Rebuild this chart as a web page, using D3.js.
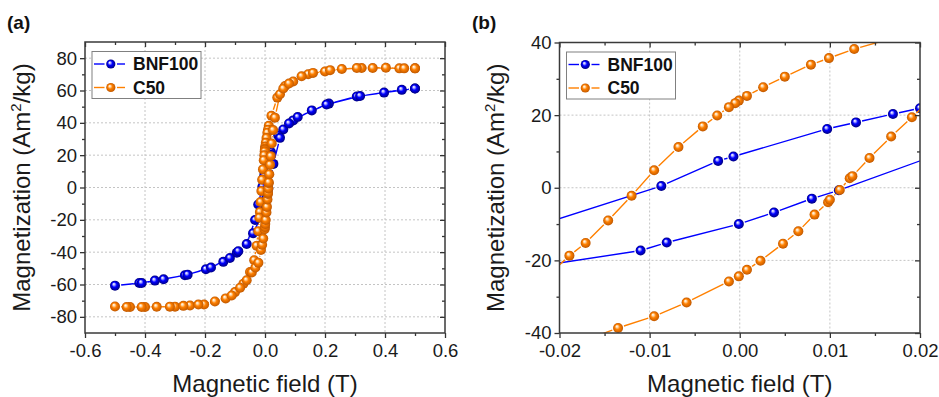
<!DOCTYPE html>
<html>
<head>
<meta charset="utf-8">
<script src="https://cdn.jsdelivr.net/npm/d3@7"></script>
<style>
  body { margin: 0; background: #fff; }
  svg { display: block; font-family: Arial, "Liberation Sans", sans-serif; }
</style>
</head>
<body>
<script>
// field (T), magnetization (Am2/kg)
// descending branch: +0.5 T -> -0.5 T, return branch: -0.5 T -> +0.5 T
const bnf100Down = [
  [0.500, 61.2], [0.397, 58.7], [0.306, 56.3], [0.213, 51.9], [0.156, 47.7], [0.094, 41.5],
  [0.061, 35.9], [0.044, 32.2], [0.0200, 21.9], [0.0170, 20.3], [0.0129, 18.0], [0.0097, 16.2],
  [-0.0007, 8.6], [-0.0024, 7.4], [-0.0087, 0.5], [-0.0225, -10.5], [-0.033, -20.1],
  [-0.061, -35.0], [-0.094, -40.4], [-0.139, -46.0], [-0.197, -50.6], [-0.267, -54.3],
  [-0.367, -57.6], [-0.419, -59.1], [-0.500, -60.7]
];
const bnf100Return = [
  [-0.411, -59.1], [-0.338, -56.8], [-0.258, -53.9], [-0.180, -49.5], [-0.117, -43.6],
  [-0.089, -39.4], [-0.040, -28.3], [-0.0110, -17.3], [-0.0081, -15.1], [-0.0001, -10.0],
  [0.0038, -6.8], [0.0080, -3.0], [0.0110, -0.7], [0.028, 14.6], [0.050, 30.7], [0.080, 39.6],
  [0.109, 43.6], [0.205, 51.3], [0.317, 56.6], [0.456, 60.4], [0.500, 61.2]
];
const c50Down = [
  [0.500, 73.7], [0.448, 73.7], [0.403, 74.1], [0.322, 73.9], [0.256, 73.3], [0.200, 71.8],
  [0.144, 70.1], [0.094, 65.6], [0.067, 62.8], [0.041, 55.6], [0.0215, 44.4], [0.0127, 38.2],
  [0.0099, 35.7], [0.0079, 33.9], [0.0050, 30.6], [0.0026, 27.7], [0.0008, 25.3], [-0.0001, 24.0],
  [-0.0005, 23.3], [-0.0012, 22.2], [-0.0025, 19.9], [-0.0041, 16.9], [-0.0068, 11.2],
  [-0.0095, 4.8], [-0.0120, -2.2], [-0.0146, -9.0], [-0.0171, -15.2], [-0.0189, -18.7],
  [-0.0225, -27.0], [-0.028, -36.0], [-0.036, -45.0], [-0.050, -52.3], [-0.072, -59.5],
  [-0.100, -64.7], [-0.131, -68.6], [-0.203, -72.4], [-0.250, -73.0], [-0.300, -73.7],
  [-0.400, -73.9], [-0.450, -73.9], [-0.500, -73.6]
];
const c50Return = [
  [-0.461, -73.9], [-0.411, -73.9], [-0.361, -73.8], [-0.317, -73.7], [-0.272, -73.2],
  [-0.222, -72.4], [-0.167, -70.5], [-0.111, -66.8], [-0.083, -62.0], [-0.061, -57.4],
  [-0.044, -52.5], [-0.032, -49.5], [-0.022, -46.5], [-0.0135, -38.6], [-0.0095, -35.4],
  [-0.0059, -31.6], [-0.0012, -25.8], [-0.0001, -24.4], [0.0008, -22.6], [0.0023, -20.1],
  [0.0048, -15.4], [0.0065, -12.0], [0.0083, -7.4], [0.0098, -4.0], [0.0100, -3.3],
  [0.0111, -0.6], [0.0122, 2.6], [0.0125, 3.2], [0.0144, 8.2], [0.0168, 14.1], [0.0191, 19.4],
  [0.0225, 27.2], [0.027, 35.5], [0.033, 43.2], [0.050, 57.7], [0.061, 61.2], [0.080, 64.3],
  [0.122, 68.8], [0.160, 70.9], [0.217, 72.6], [0.306, 73.9], [0.359, 73.9], [0.464, 73.7],
  [0.500, 73.7]
];

const seriesNames = ['BNF100', 'C50'];

// tick labels
const xTicksA = [-0.6, -0.4, -0.2, 0.0, 0.2, 0.4, 0.6];
const yTicksA = [-80, -60, -40, -20, 0, 20, 40, 60, 80];
const xTicksB = [-0.02, -0.01, 0.00, 0.01, 0.02];
const yTicksB = [-40, -20, 0, 20, 40];

const series = [
  { name: seriesNames[0], loop: bnf100Down.concat(bnf100Return), color: '#0000ff', light: '#b8b8ff', dark: '#000080' },
  { name: seriesNames[1], loop: c50Down.concat(c50Return), color: '#ff8000', light: '#ffdcb0', dark: '#c05800' }
];

const markerRadius = 5;
const symbolGap = 1.2;

const svg = d3.select('body').append('svg')
  .attr('width', 939)
  .attr('height', 397);

const defs = svg.append('defs');
series.forEach((s, i) => {
  const grad = defs.append('radialGradient')
    .attr('id', 'ball-' + i)
    .attr('cx', '50%').attr('cy', '50%').attr('r', '50%')
    .attr('fx', '36%').attr('fy', '32%');
  grad.append('stop').attr('offset', '0%').attr('stop-color', '#ffffff');
  grad.append('stop').attr('offset', '20%').attr('stop-color', s.light);
  grad.append('stop').attr('offset', '50%').attr('stop-color', s.color);
  grad.append('stop').attr('offset', '100%').attr('stop-color', s.dark);
});

function minorOf(ticks) {
  return d3.pairs(ticks).map(([a, b]) => (a + b) / 2);
}

// line segments stop short of the symbols, like the original plot
function gappedPath(pts) {
  const cut = markerRadius + symbolGap;
  let d = '';
  d3.pairs(pts).forEach(([p, q]) => {
    const dx = q[0] - p[0], dy = q[1] - p[1];
    const len = Math.hypot(dx, dy);
    if (len <= 2 * cut) return;
    const ux = dx / len, uy = dy / len;
    d += 'M' + (p[0] + ux * cut) + ',' + (p[1] + uy * cut) +
         'L' + (q[0] - ux * cut) + ',' + (q[1] - uy * cut);
  });
  return d;
}

function drawPanel(p) {
  const w = p.right - p.left;
  const h = p.bottom - p.top;
  const x = d3.scaleLinear().domain(p.xDomain).range([0, w]);
  const y = d3.scaleLinear().domain(p.yDomain).range([h, 0]);
  const g = svg.append('g').attr('transform', `translate(${p.left},${p.top})`);

  defs.append('clipPath').attr('id', 'clip-' + p.id)
    .append('rect').attr('width', w).attr('height', h);

  // dotted grid at major ticks
  const grid = g.append('g')
    .attr('stroke', '#c4c4c4')
    .attr('stroke-width', 1)
    .attr('stroke-dasharray', '2,2');
  grid.selectAll('.gx')
    .data(p.xTicks.filter(v => v > p.xDomain[0] && v < p.xDomain[1]))
    .join('line')
    .attr('x1', d => x(d)).attr('x2', d => x(d))
    .attr('y1', 0).attr('y2', h);
  grid.selectAll('.gy')
    .data(p.yTicks.filter(v => v > p.yDomain[0] && v < p.yDomain[1]))
    .join('line')
    .attr('y1', d => y(d)).attr('y2', d => y(d))
    .attr('x1', 0).attr('x2', w);

  // data
  const plot = g.append('g').attr('clip-path', `url(#clip-${p.id})`);
  series.forEach((s, i) => {
    const pts = s.loop.map(d => [x(d[0]), y(d[1])]);
    plot.append('path')
      .attr('d', gappedPath(pts))
      .attr('fill', 'none')
      .attr('stroke', s.color)
      .attr('stroke-width', 1.4);
    plot.append('g').selectAll('circle')
      .data(s.loop)
      .join('circle')
      .attr('cx', d => x(d[0]))
      .attr('cy', d => y(d[1]))
      .attr('r', markerRadius)
      .attr('fill', `url(#ball-${i})`);
  });

  // axes: outward ticks bottom/left, mirrored inward ticks top/right
  const styleAxis = sel => {
    sel.select('.domain').remove();
    sel.selectAll('.tick line').attr('stroke', '#333').attr('stroke-width', 1.3);
    sel.selectAll('.tick text')
      .attr('fill', '#1a1a1a')
      .style('font-size', '18.5px')
      .style('font-family', 'Arial, "Liberation Sans", sans-serif');
  };

  g.append('g').attr('transform', `translate(0,${h})`)
    .call(d3.axisBottom(x).tickValues(p.xTicks).tickFormat(p.xFormat).tickSize(5).tickPadding(6))
    .call(styleAxis);
  g.append('g').attr('transform', `translate(0,${h})`)
    .call(d3.axisBottom(x).tickValues(minorOf(p.xTicks)).tickFormat('').tickSize(3))
    .call(styleAxis);
  g.append('g')
    .call(d3.axisLeft(y).tickValues(p.yTicks).tickFormat(p.yFormat).tickSize(5).tickPadding(3))
    .call(styleAxis);
  g.append('g')
    .call(d3.axisLeft(y).tickValues(minorOf(p.yTicks)).tickFormat('').tickSize(3))
    .call(styleAxis);
  g.append('g')
    .call(d3.axisBottom(x).tickValues(p.xTicks).tickFormat('').tickSize(5))
    .call(styleAxis);
  g.append('g')
    .call(d3.axisBottom(x).tickValues(minorOf(p.xTicks)).tickFormat('').tickSize(3))
    .call(styleAxis);
  g.append('g').attr('transform', `translate(${w},0)`)
    .call(d3.axisLeft(y).tickValues(p.yTicks).tickFormat('').tickSize(5))
    .call(styleAxis);
  g.append('g').attr('transform', `translate(${w},0)`)
    .call(d3.axisLeft(y).tickValues(minorOf(p.yTicks)).tickFormat('').tickSize(3))
    .call(styleAxis);

  g.append('rect')
    .attr('width', w).attr('height', h)
    .attr('fill', 'none')
    .attr('stroke', '#3a3a3a')
    .attr('stroke-width', 1.5);

  // legend
  const lg = g.append('g').attr('transform', 'translate(7,9.5)');
  lg.append('rect')
    .attr('width', 109).attr('height', 47)
    .attr('fill', '#fff')
    .attr('stroke', '#808080')
    .attr('stroke-width', 1);
  series.forEach((s, i) => {
    const row = lg.append('g').attr('transform', `translate(0,${12.5 + i * 23.5})`);
    row.append('line').attr('x1', 2).attr('x2', 12.5).attr('stroke', s.color).attr('stroke-width', 1.4);
    row.append('line').attr('x1', 25).attr('x2', 33).attr('stroke', s.color).attr('stroke-width', 1.4);
    row.append('circle').attr('cx', 18.8).attr('r', 4.6).attr('fill', `url(#ball-${i})`);
    row.append('text')
      .attr('x', 41).attr('dy', '0.36em')
      .style('font-size', '17.5px')
      .style('font-weight', 'bold')
      .attr('fill', '#111')
      .text(s.name);
  });

  // titles
  svg.append('text')
    .attr('x', p.left + w / 2).attr('y', 392)
    .attr('text-anchor', 'middle')
    .style('font-size', '24px')
    .attr('fill', '#1a1a1a')
    .text('Magnetic field (T)');

  const yt = svg.append('text')
    .attr('transform', `translate(${p.yTitleX},${p.top + h / 2}) rotate(-90)`)
    .attr('text-anchor', 'middle')
    .style('font-size', '24px')
    .attr('fill', '#1a1a1a');
  yt.append('tspan').text('Magnetization (Am');
  yt.append('tspan').attr('dy', -9).style('font-size', '15px').text('2');
  yt.append('tspan').attr('dy', 9).text('/kg)');

  svg.append('text')
    .attr('x', p.labelX).attr('y', 29)
    .style('font-size', '19px')
    .style('font-weight', 'bold')
    .attr('fill', '#111')
    .text(p.label);
}

drawPanel({
  id: 'a', label: '(a)', labelX: 7, yTitleX: 30,
  left: 85, top: 42, right: 445, bottom: 333,
  xDomain: [-0.6, 0.6], yDomain: [-90, 90],
  xTicks: xTicksA, yTicks: yTicksA,
  xFormat: d => d.toFixed(1), yFormat: d => String(d)
});

drawPanel({
  id: 'b', label: '(b)', labelX: 472, yTitleX: 504,
  left: 559.5, top: 42.5, right: 920, bottom: 333,
  xDomain: [-0.02, 0.02], yDomain: [-40, 40],
  xTicks: xTicksB, yTicks: yTicksB,
  xFormat: d => d.toFixed(2), yFormat: d => String(d)
});
</script>
</body>
</html>
